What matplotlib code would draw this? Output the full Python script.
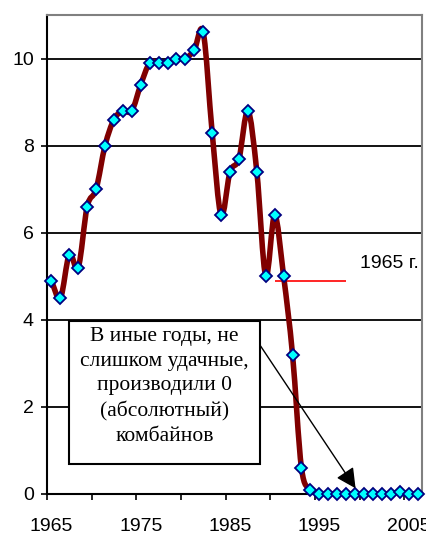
import matplotlib
matplotlib.use("Agg")
from matplotlib import pyplot as plt
from matplotlib.path import Path
from matplotlib.patches import PathPatch, Rectangle
import numpy as np

# годы и выпуск
years = list(range(1965, 2007))
values = [4.9, 4.5, 5.5, 5.2, 6.6, 7.0, 8.0, 8.6, 8.8, 8.8,
          9.4, 9.9, 9.9, 9.9, 10.0, 10.0, 10.2, 10.6, 8.3, 6.4,
          7.4, 7.7, 8.8, 7.4, 5.0, 6.4, 5.0, 3.2, 0.6, 0.1,
          0, 0, 0, 0, 0, 0, 0, 0, 0, 0.05,
          0, 0]
xlabels = [1965, 1975, 1985, 1995, 2005]
yticks = [0, 2, 4, 6, 8, 10]
note = "В иные годы, не\nслишком удачные,\nпроизводили 0\n(абсолютный)\nкомбайнов"
ref_label = "1965 г."

plt.rcParams['font.family'] = ['Liberation Sans', 'DejaVu Sans']

fig = plt.figure(figsize=(4.27, 5.36), dpi=100)
ax = fig.add_axes([47/427, 1-494/536, 375/427, 479/536])

# сглаженная линия как в Excel (кривые Безье через точки)
x = np.array(years, dtype=float)
y = np.array(values, dtype=float)
verts = [(x[0], y[0])]
codes = [Path.MOVETO]
n = len(x)
for i in range(n - 1):
    p0 = np.array([x[max(i-1, 0)], y[max(i-1, 0)]])
    p1 = np.array([x[i], y[i]])
    p2 = np.array([x[i+1], y[i+1]])
    p3 = np.array([x[min(i+2, n-1)], y[min(i+2, n-1)]])
    c1 = p1 + (p2 - p0) / 6
    c2 = p2 - (p3 - p1) / 6
    verts += [tuple(c1), tuple(c2), tuple(p2)]
    codes += [Path.CURVE4] * 3
ax.add_patch(PathPatch(Path(verts, codes), fill=False, edgecolor='#800000',
                       lw=4.0, capstyle='round', joinstyle='round', zorder=3))
ax.plot(years, values, ls='none', marker='D', ms=6.4, mfc='#00FFFF',
        mec='#000080', mew=1.3, zorder=5, clip_on=False)

ax.set_xlim(years[0] - 0.5, years[-1] + 0.5)
ax.set_ylim(0, 11)

ax.set_yticks(yticks)
for v in yticks[1:]:
    ax.axhline(v, color='black', lw=1.3, zorder=1)

ax.set_xticks(xlabels)
ax.set_xticks(np.arange(years[0] - 0.5, years[-1] + 0.5, 5), minor=True)
ax.tick_params(axis='x', which='major', length=0, pad=17, labelsize=14)
ax.tick_params(axis='x', which='minor', length=4.5, width=1.2, direction='out')
ax.tick_params(axis='y', length=4.5, width=1.2, pad=5, labelsize=14)

for s in ['left', 'bottom']:
    ax.spines[s].set_color('black')
    ax.spines[s].set_linewidth(1.5)
for s in ['top', 'right']:
    ax.spines[s].set_color('#808080')
    ax.spines[s].set_linewidth(1.5)

# линия уровня 1965 г.
ax.hlines(values[0], 1990, 1998, color='red', lw=1.2, zorder=2)
ax.text(1999.6, 5.3, ref_label, fontsize=14, va='center', ha='left', zorder=6)

# выноска
ax.add_patch(Rectangle((1966.95, 0.69), 21.4, 3.28, facecolor='white',
                       edgecolor='black', lw=1.5, zorder=4))
ax.text(1977.65, 2.47, note, family=['Liberation Serif', 'DejaVu Serif'],
        fontsize=15.5, ha='center', va='center', linespacing=1.39, zorder=6)
ax.annotate('', xy=(1999.06, 0.13), xytext=(1988.35, 3.42),
            arrowprops=dict(arrowstyle='-|>,head_length=0.55,head_width=0.28',
                            mutation_scale=22, color='black', lw=1.0,
                            shrinkA=0, shrinkB=0), zorder=6)

fig.savefig('out.png', dpi=100)
